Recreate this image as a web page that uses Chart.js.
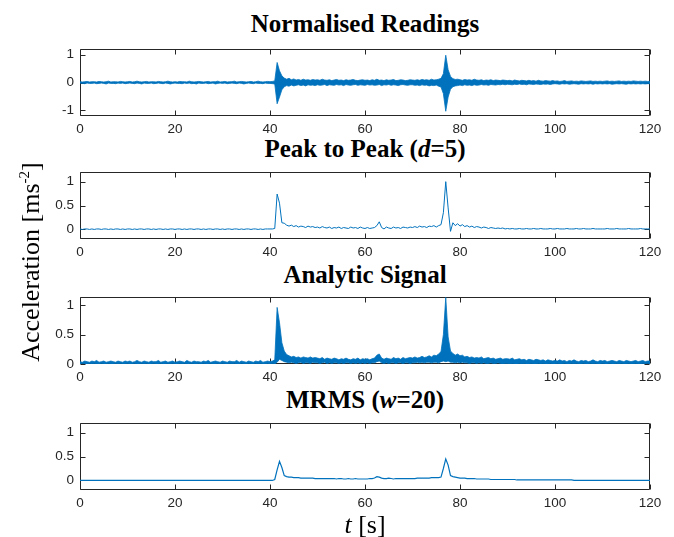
<!DOCTYPE html>
<html>
<head>
<meta charset="utf-8">
<script src="https://cdn.jsdelivr.net/npm/chart.js@4.4.1/dist/chart.umd.min.js"></script>
<style>
  body { margin: 0; background: #fff; }
  #fig { position: relative; width: 674px; height: 537px; overflow: hidden; background: #fff; }
  #fig canvas { position: absolute; left: 0; }
  .ttl {
    position: absolute; left: 80px; width: 570px; text-align: center;
    font: bold 25px "Liberation Serif", "Times New Roman", serif;
    line-height: 26px; color: #000; white-space: nowrap;
  }
  .axlab {
    position: absolute; width: 320px; text-align: center; white-space: nowrap;
    font: 26px "Liberation Serif", "Times New Roman", serif; line-height: 30px; color: #000;
  }
  .axlab sup { font-size: 15px; vertical-align: 10px; line-height: 0; }
  #ylab { left: 31px; top: 262px; transform: translate(-50%, -50%) rotate(-90deg); }
  #xlab { left: 365px; top: 525px; transform: translate(-50%, -50%); }
</style>
</head>
<body>
<div id="fig">
  <div class="ttl" style="top:11px">Normalised Readings</div>
  <div class="ttl" style="top:136px">Peak to Peak (<i>d</i>=5)</div>
  <div class="ttl" style="top:262px">Analytic Signal</div>
  <div class="ttl" style="top:387px">MRMS (<i>w</i>=20)</div>
  <canvas id="c1" width="674" height="107"></canvas>
  <canvas id="c2" width="674" height="107"></canvas>
  <canvas id="c3" width="674" height="107"></canvas>
  <canvas id="c4" width="674" height="107"></canvas>
  <div class="axlab" id="ylab">Acceleration [ms<sup>-2</sup>]</div>
  <div class="axlab" id="xlab"><i>t</i> [s]</div>
</div>
<script>
// sampling step of every series below (seconds); one row = 10 s
const DT = 0.5;
const xTicks = [0, 20, 40, 60, 80, 100, 120];

// normalised readings: upper / lower envelope of the raw trace
const normUpper = [
  0.03,0.02,0.03,0.04,0.02,0.03,0.03,0.02,0.04,0.03,0.02,0.03,0.05,0.02,0.03,0.03,0.02,0.04,0.03,0.02,
  0.03,0.04,0.02,0.03,0.05,0.03,0.02,0.03,0.04,0.02,0.03,0.03,0.02,0.04,0.03,0.02,0.03,0.05,0.03,0.02,
  0.03,0.02,0.04,0.03,0.03,0.02,0.05,0.03,0.02,0.03,0.04,0.03,0.02,0.03,0.04,0.02,0.03,0.03,0.05,0.02,
  0.03,0.04,0.02,0.03,0.03,0.05,0.02,0.03,0.04,0.03,0.02,0.03,0.04,0.02,0.03,0.05,0.03,0.02,0.03,0.04,
  0.03,0.04,0.06,0.72,0.42,0.24,0.16,0.12,0.15,0.10,0.13,0.09,0.11,0.08,0.12,0.09,0.10,0.08,0.11,0.09,
  0.10,0.08,0.12,0.09,0.08,0.10,0.07,0.09,0.11,0.08,0.09,0.07,0.10,0.08,0.09,0.11,0.08,0.07,0.09,0.10,
  0.08,0.09,0.07,0.10,0.08,0.12,0.08,0.09,0.07,0.10,0.08,0.09,0.11,0.07,0.08,0.10,0.09,0.07,0.08,0.10,
  0.09,0.08,0.10,0.08,0.11,0.09,0.10,0.08,0.12,0.09,0.10,0.12,0.15,0.32,0.98,0.46,0.22,0.14,0.11,0.12,
  0.10,0.08,0.11,0.09,0.10,0.08,0.12,0.09,0.08,0.10,0.07,0.09,0.08,0.10,0.07,0.09,0.08,0.07,0.09,0.08,
  0.07,0.08,0.06,0.09,0.07,0.06,0.08,0.07,0.06,0.08,0.06,0.07,0.05,0.08,0.06,0.05,0.07,0.06,0.05,0.07,
  0.05,0.06,0.04,0.05,0.07,0.04,0.05,0.06,0.04,0.05,0.04,0.06,0.05,0.04,0.05,0.06,0.04,0.05,0.04,0.05,
  0.04,0.05,0.06,0.04,0.05,0.04,0.05,0.06,0.04,0.05,0.04,0.05,0.04,0.06,0.05,0.04,0.05,0.04,0.05,0.04,
  0.04
];
const normLower = [
  -0.02,-0.03,-0.04,-0.02,-0.03,-0.03,-0.02,-0.04,-0.03,-0.02,-0.03,-0.05,-0.02,-0.03,-0.03,-0.04,-0.02,-0.03,-0.02,-0.04,
  -0.03,-0.02,-0.03,-0.04,-0.02,-0.03,-0.05,-0.02,-0.03,-0.03,-0.02,-0.04,-0.03,-0.02,-0.03,-0.04,-0.02,-0.03,-0.05,-0.03,
  -0.02,-0.03,-0.03,-0.04,-0.02,-0.03,-0.02,-0.04,-0.03,-0.05,-0.02,-0.03,-0.03,-0.02,-0.04,-0.03,-0.02,-0.05,-0.03,-0.02,
  -0.03,-0.02,-0.04,-0.03,-0.02,-0.03,-0.04,-0.02,-0.03,-0.05,-0.03,-0.02,-0.03,-0.04,-0.02,-0.03,-0.03,-0.04,-0.02,-0.03,
  -0.03,-0.04,-0.05,-0.76,-0.52,-0.26,-0.15,-0.11,-0.13,-0.09,-0.12,-0.10,-0.08,-0.11,-0.09,-0.12,-0.08,-0.10,-0.09,-0.11,
  -0.08,-0.10,-0.09,-0.07,-0.11,-0.08,-0.09,-0.10,-0.07,-0.09,-0.08,-0.11,-0.07,-0.09,-0.10,-0.08,-0.07,-0.10,-0.08,-0.09,
  -0.10,-0.07,-0.09,-0.08,-0.10,-0.09,-0.07,-0.11,-0.08,-0.09,-0.07,-0.10,-0.08,-0.09,-0.11,-0.08,-0.07,-0.09,-0.10,-0.08,
  -0.08,-0.10,-0.09,-0.11,-0.08,-0.10,-0.09,-0.12,-0.10,-0.11,-0.09,-0.13,-0.16,-0.40,-1.03,-0.52,-0.24,-0.15,-0.12,-0.11,
  -0.09,-0.11,-0.08,-0.10,-0.09,-0.11,-0.08,-0.10,-0.09,-0.07,-0.09,-0.08,-0.10,-0.07,-0.08,-0.09,-0.07,-0.08,-0.06,-0.08,
  -0.06,-0.07,-0.08,-0.06,-0.07,-0.05,-0.07,-0.06,-0.08,-0.05,-0.06,-0.07,-0.05,-0.06,-0.07,-0.05,-0.06,-0.05,-0.07,-0.05,
  -0.04,-0.05,-0.06,-0.04,-0.05,-0.04,-0.06,-0.05,-0.04,-0.05,-0.06,-0.04,-0.05,-0.04,-0.05,-0.04,-0.06,-0.04,-0.05,-0.04,
  -0.05,-0.04,-0.05,-0.04,-0.06,-0.05,-0.04,-0.05,-0.04,-0.05,-0.06,-0.04,-0.05,-0.04,-0.05,-0.04,-0.05,-0.04,-0.05,-0.04,
  -0.04
];

// peak to peak, d = 5
const peakToPeak = [
  0.01,0.00,0.01,0.01,0.00,0.01,0.00,0.01,0.01,0.00,0.01,0.01,0.00,0.01,0.00,0.01,0.01,0.00,0.01,0.00,
  0.01,0.01,0.00,0.01,0.00,0.01,0.01,0.00,0.01,0.01,0.00,0.01,0.00,0.01,0.01,0.00,0.01,0.00,0.01,0.01,
  0.00,0.01,0.01,0.00,0.01,0.00,0.01,0.01,0.00,0.01,0.01,0.00,0.01,0.00,0.01,0.01,0.00,0.01,0.01,0.00,
  0.01,0.00,0.01,0.01,0.00,0.01,0.01,0.00,0.01,0.00,0.01,0.01,0.00,0.01,0.01,0.00,0.01,0.00,0.01,0.01,
  0.01,0.01,0.02,0.74,0.55,0.14,0.13,0.09,0.07,0.09,0.06,0.08,0.05,0.07,0.06,0.04,0.07,0.05,0.06,0.04,
  0.05,0.03,0.06,0.04,0.03,0.05,0.02,0.04,0.03,0.05,0.02,0.04,0.03,0.02,0.05,0.03,0.04,0.02,0.05,0.03,
  0.02,0.04,0.02,0.03,0.04,0.08,0.16,0.04,0.01,0.05,0.03,0.02,0.05,0.03,0.04,0.02,0.05,0.04,0.03,0.05,
  0.04,0.06,0.04,0.07,0.05,0.06,0.04,0.07,0.06,0.08,0.05,0.08,0.10,0.35,1.00,0.45,-0.04,0.14,0.08,0.12,
  0.07,0.10,0.06,0.08,0.05,0.07,0.04,0.06,0.05,0.03,0.05,0.04,0.02,0.04,0.03,0.02,0.03,0.02,0.03,0.01,
  0.02,0.01,0.02,0.01,0.01,0.02,0.01,0.01,0.02,0.01,0.01,0.02,0.01,0.01,0.02,0.01,0.01,0.01,0.02,0.01,
  0.01,0.02,0.01,0.01,0.01,0.02,0.01,0.01,0.01,0.02,0.01,0.01,0.02,0.01,0.01,0.01,0.02,0.01,0.01,0.01,
  0.01,0.01,0.02,0.01,0.01,0.01,0.02,0.01,0.01,0.01,0.01,0.02,0.01,0.01,0.01,0.01,0.02,0.01,0.01,0.01,
  0.01
];

// analytic signal: upper / lower envelope
const anaUpper = [
  0.04,0.03,0.05,0.04,0.03,0.05,0.04,0.06,0.03,0.04,0.05,0.03,0.04,0.05,0.04,0.03,0.05,0.04,0.03,0.05,
  0.04,0.05,0.03,0.04,0.06,0.04,0.03,0.05,0.04,0.03,0.05,0.04,0.04,0.06,0.03,0.04,0.05,0.03,0.04,0.05,
  0.03,0.04,0.05,0.04,0.03,0.06,0.04,0.03,0.05,0.04,0.04,0.03,0.05,0.04,0.06,0.03,0.04,0.05,0.04,0.03,
  0.05,0.04,0.03,0.05,0.04,0.04,0.06,0.03,0.05,0.04,0.03,0.05,0.04,0.03,0.05,0.04,0.06,0.03,0.04,0.05,
  0.04,0.05,0.07,0.96,0.70,0.36,0.22,0.16,0.14,0.12,0.13,0.11,0.12,0.10,0.12,0.11,0.10,0.12,0.10,0.11,
  0.10,0.09,0.11,0.08,0.10,0.09,0.08,0.10,0.09,0.07,0.09,0.08,0.10,0.08,0.07,0.09,0.08,0.10,0.07,0.09,
  0.08,0.09,0.07,0.09,0.10,0.15,0.17,0.10,0.08,0.10,0.09,0.08,0.11,0.09,0.10,0.08,0.11,0.09,0.10,0.11,
  0.10,0.12,0.10,0.11,0.13,0.11,0.12,0.14,0.12,0.15,0.14,0.17,0.21,0.50,1.13,0.46,0.22,0.18,0.15,0.17,
  0.14,0.15,0.12,0.13,0.11,0.12,0.10,0.11,0.10,0.12,0.09,0.10,0.11,0.09,0.10,0.08,0.09,0.10,0.08,0.09,
  0.09,0.08,0.10,0.07,0.08,0.09,0.07,0.08,0.06,0.08,0.07,0.06,0.08,0.07,0.06,0.07,0.05,0.07,0.06,0.05,
  0.06,0.05,0.07,0.05,0.06,0.04,0.06,0.05,0.07,0.05,0.04,0.06,0.05,0.06,0.04,0.05,0.07,0.05,0.04,0.06,
  0.05,0.06,0.04,0.05,0.06,0.05,0.04,0.06,0.05,0.04,0.06,0.05,0.04,0.05,0.06,0.04,0.05,0.06,0.04,0.05,
  0.05
];
const anaLower = [
  0.00,0.01,0.00,0.00,0.01,0.00,0.01,0.00,0.00,0.01,0.00,0.00,0.01,0.00,0.00,0.01,0.00,0.01,0.00,0.00,
  0.01,0.00,0.00,0.01,0.00,0.00,0.01,0.00,0.01,0.00,0.00,0.01,0.00,0.00,0.01,0.00,0.00,0.01,0.00,0.01,
  0.00,0.00,0.01,0.00,0.01,0.00,0.00,0.01,0.00,0.00,0.01,0.00,0.01,0.00,0.00,0.01,0.00,0.00,0.01,0.00,
  0.01,0.00,0.00,0.01,0.00,0.01,0.00,0.00,0.01,0.00,0.00,0.01,0.00,0.00,0.01,0.00,0.01,0.00,0.00,0.01,
  0.00,0.01,0.00,0.03,0.08,0.06,0.04,0.03,0.02,0.03,0.02,0.01,0.02,0.03,0.01,0.02,0.02,0.01,0.03,0.02,
  0.02,0.01,0.02,0.03,0.01,0.02,0.01,0.02,0.02,0.01,0.02,0.01,0.02,0.02,0.01,0.02,0.01,0.02,0.01,0.02,
  0.01,0.02,0.01,0.02,0.02,0.04,0.05,0.02,0.01,0.02,0.01,0.02,0.02,0.01,0.02,0.02,0.01,0.02,0.02,0.01,
  0.02,0.02,0.03,0.02,0.03,0.02,0.03,0.03,0.02,0.03,0.03,0.02,0.04,0.05,0.04,0.05,0.03,0.03,0.02,0.03,
  0.02,0.03,0.02,0.02,0.01,0.02,0.02,0.01,0.02,0.01,0.02,0.01,0.01,0.02,0.01,0.01,0.02,0.01,0.00,0.01,
  0.01,0.00,0.01,0.00,0.00,0.01,0.00,0.01,0.00,0.00,0.01,0.00,0.00,0.01,0.00,0.01,0.00,0.00,0.01,0.00,
  0.00,0.01,0.00,0.00,0.01,0.00,0.00,0.01,0.00,0.01,0.00,0.00,0.01,0.00,0.00,0.01,0.00,0.01,0.00,0.00,
  0.01,0.00,0.00,0.01,0.00,0.00,0.01,0.00,0.01,0.00,0.00,0.01,0.00,0.00,0.01,0.00,0.00,0.01,0.00,0.01,
  0.00
];

// moving RMS, w = 20
const mrms = [
  0.00,0.00,0.00,0.00,0.00,0.00,0.00,0.00,0.00,0.00,0.00,0.00,0.00,0.00,0.00,0.00,0.00,0.00,0.00,0.00,
  0.00,0.00,0.00,0.00,0.00,0.00,0.00,0.00,0.00,0.00,0.00,0.00,0.00,0.00,0.00,0.00,0.00,0.00,0.00,0.00,
  0.00,0.00,0.00,0.00,0.00,0.00,0.00,0.00,0.00,0.00,0.00,0.00,0.00,0.00,0.00,0.00,0.00,0.00,0.00,0.00,
  0.00,0.00,0.00,0.00,0.00,0.00,0.00,0.00,0.00,0.00,0.00,0.00,0.00,0.00,0.00,0.00,0.00,0.00,0.00,0.00,
  0.00,0.00,0.02,0.22,0.40,0.27,0.10,0.08,0.07,0.07,0.06,0.06,0.06,0.05,0.05,0.05,0.05,0.05,0.05,0.04,
  0.04,0.04,0.04,0.04,0.04,0.04,0.04,0.04,0.03,0.04,0.04,0.03,0.03,0.04,0.03,0.03,0.04,0.03,0.03,0.03,
  0.03,0.03,0.04,0.04,0.05,0.08,0.07,0.05,0.04,0.04,0.05,0.04,0.03,0.04,0.04,0.04,0.04,0.04,0.04,0.04,
  0.04,0.04,0.05,0.05,0.05,0.05,0.05,0.05,0.06,0.06,0.06,0.06,0.07,0.25,0.45,0.32,0.10,0.08,0.07,0.06,
  0.05,0.05,0.05,0.04,0.04,0.04,0.04,0.03,0.03,0.03,0.03,0.03,0.03,0.02,0.02,0.02,0.02,0.02,0.02,0.02,
  0.02,0.02,0.02,0.02,0.01,0.01,0.01,0.01,0.01,0.01,0.01,0.01,0.01,0.01,0.01,0.01,0.01,0.01,0.01,0.01,
  0.01,0.01,0.01,0.01,0.01,0.01,0.01,0.01,0.00,0.00,0.00,0.00,0.00,0.00,0.00,0.00,0.00,0.00,0.00,0.00,
  0.00,0.00,0.00,0.00,0.00,0.00,0.00,0.00,0.00,0.00,0.00,0.00,0.00,0.00,0.00,0.00,0.00,0.00,0.00,0.00,
  0.00
];

const BLUE = '#0072BD';
const AXIS = '#262626';
const TICK_LEN = 5;

function pts(arr) {
  return arr.map((v, i) => ({ x: i * DT, y: v }));
}

// MATLAB-like box with inward ticks on all four sides
const boxFrame = {
  id: 'boxFrame',
  beforeDatasetsDraw(chart) {
    const { ctx, chartArea: a, scales } = chart;
    const L = Math.round(a.left) + 0.5, R = Math.round(a.right) - 0.5;
    const T = Math.round(a.top) + 0.5, B = Math.round(a.bottom) - 0.5;
    ctx.save();
    ctx.strokeStyle = AXIS;
    ctx.lineWidth = 1;
    ctx.beginPath();
    scales.x.ticks.forEach(t => {
      const px = Math.round(scales.x.getPixelForValue(t.value)) + 0.5;
      ctx.moveTo(px, T); ctx.lineTo(px, T + TICK_LEN);
      ctx.moveTo(px, B); ctx.lineTo(px, B - TICK_LEN);
    });
    scales.y.ticks.forEach(t => {
      const py = Math.round(scales.y.getPixelForValue(t.value)) + 0.5;
      ctx.moveTo(L, py); ctx.lineTo(L + TICK_LEN, py);
      ctx.moveTo(R, py); ctx.lineTo(R - TICK_LEN, py);
    });
    ctx.rect(L, T, R - L, B - T);
    ctx.stroke();
    ctx.restore();
  }
};

const tickFont = { family: '"Liberation Sans", Arial, sans-serif', size: 13.5 };

function makePanel(id, top, datasets, yMin, yMax, yTicks) {
  const el = document.getElementById(id);
  el.style.top = top + 'px';
  return new Chart(el, {
    type: 'line',
    data: { datasets: datasets },
    options: {
      responsive: false,
      animation: false,
      events: [],
      layout: { padding: { top: 8, right: 24, bottom: 0, left: 0 } },
      plugins: { legend: { display: false }, tooltip: { enabled: false } },
      elements: { point: { radius: 0 }, line: { tension: 0 } },
      scales: {
        x: {
          type: 'linear', min: 0, max: 120,
          afterBuildTicks: s => { s.ticks = xTicks.map(v => ({ value: v })); },
          afterFit: s => { s.height = 26; },
          grid: { display: false, drawTicks: false },
          border: { display: false },
          ticks: { font: tickFont, color: AXIS, padding: 5, maxRotation: 0, autoSkip: false,
                   callback: v => String(v) }
        },
        y: {
          min: yMin, max: yMax,
          afterBuildTicks: s => { s.ticks = yTicks.map(v => ({ value: v })); },
          afterFit: s => { s.width = 80; },
          grid: { display: false, drawTicks: false },
          border: { display: false },
          ticks: { font: tickFont, color: AXIS, padding: 6, callback: v => String(v) }
        }
      }
    },
    plugins: [boxFrame]
  });
}

function band(upper, lower) {
  return [
    { data: pts(upper), borderColor: BLUE, borderWidth: 0.8, fill: false },
    { data: pts(lower), borderColor: BLUE, borderWidth: 0.8, backgroundColor: BLUE, fill: '-1' }
  ];
}

makePanel('c1', 35, band(normUpper, normLower), -1.2, 1.2, [-1, 0, 1]);
makePanel('c2', 158, [{ data: pts(peakToPeak), borderColor: BLUE, borderWidth: 1, fill: false }],
          -0.2, 1.2, [0, 0.5, 1]);
makePanel('c3', 283, band(anaUpper, anaLower), 0, 1.135, [0, 0.5, 1]);
makePanel('c4', 409, [{ data: pts(mrms), borderColor: BLUE, borderWidth: 1.2, fill: false }],
          -0.2, 1.2, [0, 0.5, 1]);
</script>
</body>
</html>
